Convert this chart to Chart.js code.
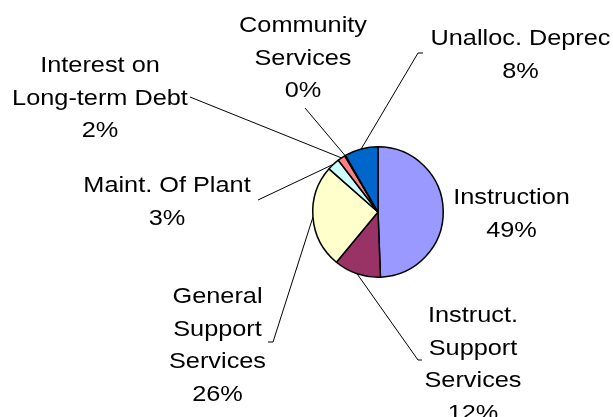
<!DOCTYPE html>
<html>
<head>
<meta charset="utf-8">
<script src="https://cdn.jsdelivr.net/npm/chart.js@4"></script>
<style>
  html, body { margin: 0; padding: 0; background: #fff; }
  #wrap { width: 613px; height: 417px; }
</style>
</head>
<body>
<div id="wrap"><canvas id="expChart" width="613" height="417"></canvas></div>
<script>
// chart data
const categories = ['Instruction', 'Instruct. Support Services', 'General Support Services',
                    'Maint. Of Plant', 'Interest on Long-term Debt', 'Community Services', 'Unalloc. Deprec'];
const shares = [49.4, 11.6, 25.5, 3.1, 1.9, 0.2, 8.3];
const labelLines = [
    ['Instruction'],
    ['Instruct.', 'Support', 'Services'],
    ['General', 'Support', 'Services'],
    ['Maint. Of Plant'],
    ['Interest on', 'Long-term Debt'],
    ['Community', 'Services'],
    ['Unalloc. Deprec']
];
const sliceColors = ['#9999FF', '#993366', '#FFFFCC', '#CCFFFF', '#FF8080', '#660066', '#0066CC'];

// label placement relative to the pie centre (text centre x, first baseline y)
// and the outer end of each leader line (null = no line)
const labelLayout = [
    { x: 133.5, y: -8, line: null },
    { x: 95, y: 110, line: { x: 40, y: 148, tick: 4 } },
    { x: -160.5, y: 91, line: { x: -105, y: 130, tick: -5 } },
    { x: -211, y: -20, line: { x: -120, y: -12, tick: 0 } },
    { x: -278, y: -140, line: { x: -188, y: -115, tick: 0 } },
    { x: -75, y: -180, line: { x: -73, y: -104, tick: 0 } },
    { x: 142.5, y: -167, line: { x: 40, y: -159, tick: 5 } }
];

const FONT = '22px "Liberation Sans", Arial, sans-serif';
const STRETCH = 1.15;   // the original text is a bit wider than Arial
const LINE_H = 32.5;

const pieLabels = {
    id: 'pieLabels',
    afterDatasetsDraw(chart) {
        const c = chart.ctx;
        const arcs = chart.getDatasetMeta(0).data;
        c.save();
        c.font = FONT;
        c.fillStyle = '#000';
        c.textAlign = 'center';
        c.textBaseline = 'alphabetic';
        arcs.forEach((arc, i) => {
            const p = arc.getProps(['x', 'y', 'startAngle', 'endAngle', 'outerRadius'], true);
            const lay = labelLayout[i];
            if (lay.line) {
                const mid = (p.startAngle + p.endAngle) / 2;
                const ex = p.x + Math.cos(mid) * p.outerRadius;
                const ey = p.y + Math.sin(mid) * p.outerRadius;
                const lx = p.x + lay.line.x, ly = p.y + lay.line.y;
                c.beginPath();
                c.strokeStyle = '#000';
                c.lineWidth = 1;
                c.moveTo(ex, ey);
                c.lineTo(lx, ly);
                if (lay.line.tick) c.lineTo(lx + lay.line.tick, ly);
                c.stroke();
            }
            const lines = labelLines[i].concat([Math.round(shares[i]) + '%']);
            lines.forEach((t, k) => {
                c.save();
                c.translate(p.x + lay.x, p.y + lay.y + k * LINE_H);
                c.scale(STRETCH, 1);
                c.fillText(t, 0, 0);
                c.restore();
            });
        });
        c.restore();
    }
};

new Chart(document.getElementById('expChart'), {
    type: 'pie',
    data: {
        labels: categories,
        datasets: [{
            data: shares,
            backgroundColor: sliceColors,
            borderColor: '#000',
            borderWidth: 1.5
        }]
    },
    options: {
        responsive: false,
        animation: false,
        layout: { padding: { left: 312, right: 169, top: 146, bottom: 139 } },
        plugins: {
            legend: { display: false },
            tooltip: { enabled: false }
        }
    },
    plugins: [pieLabels]
});
</script>
</body>
</html>
